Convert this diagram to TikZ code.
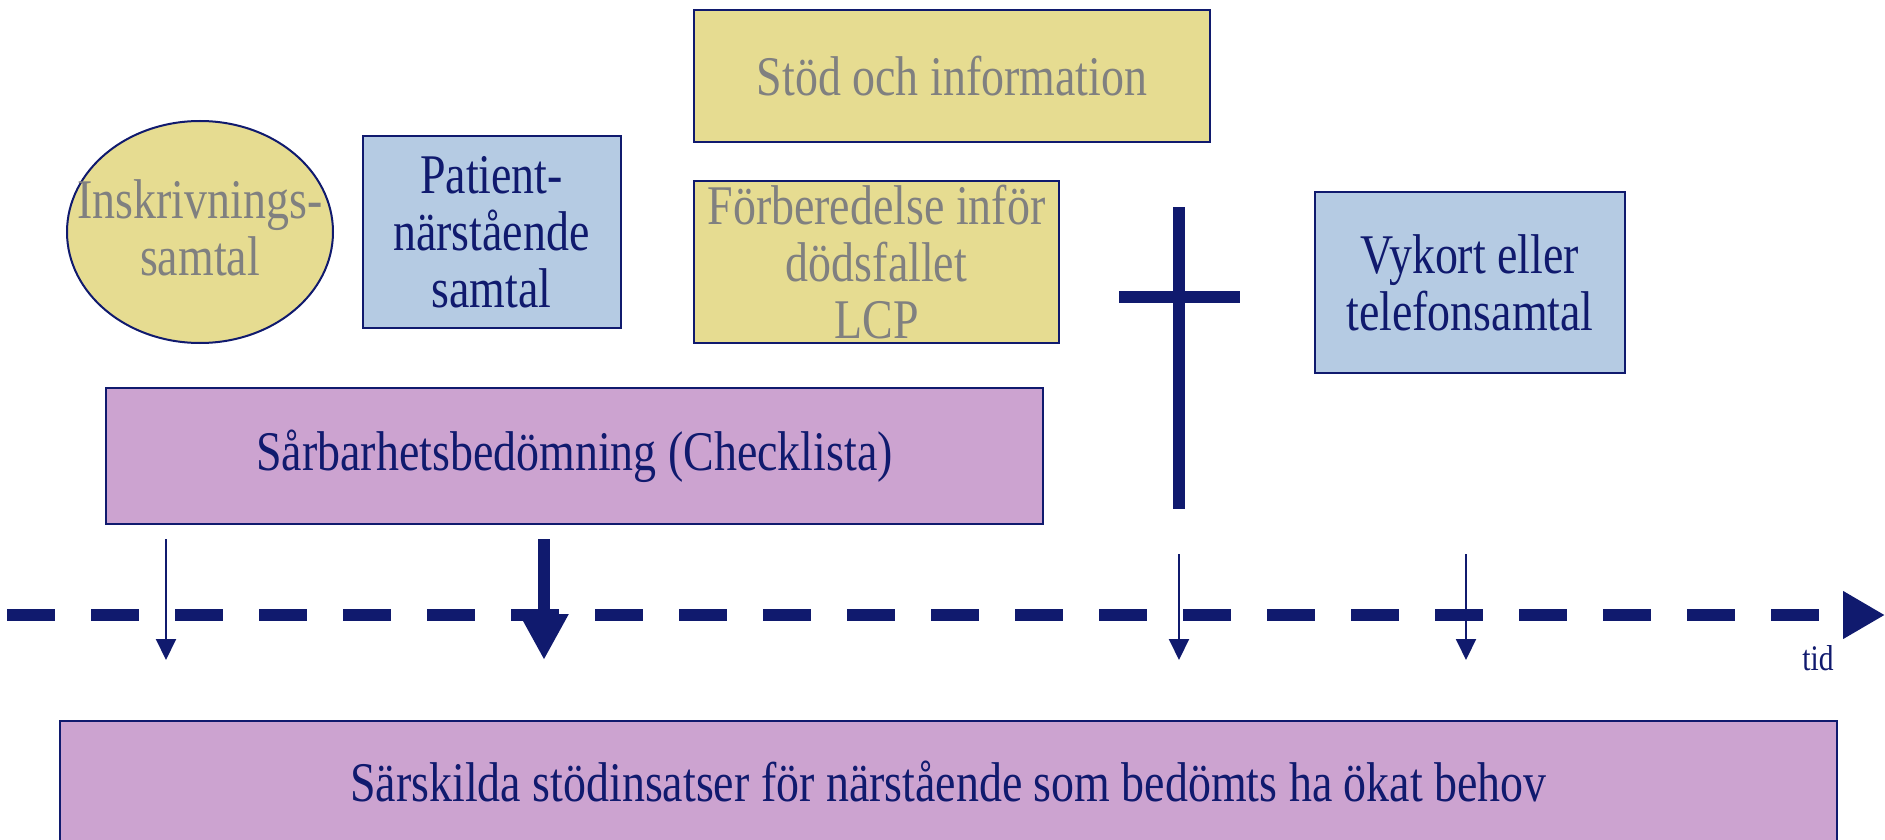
\documentclass[tikz,border=0pt]{standalone}
\usepackage{fontspec}
\setmainfont[FakeStretch=0.82]{Liberation Serif}
\usetikzlibrary{shapes.geometric,arrows.meta}
\definecolor{navy}{RGB}{16,26,110}
\definecolor{boxyellow}{RGB}{230,220,145}
\definecolor{boxblue}{RGB}{181,203,227}
\definecolor{boxpurple}{RGB}{204,163,208}
\definecolor{txtgray}{RGB}{128,128,128}
\newcommand{\myBigFont}{\fontsize{56}{57}\selectfont}
\newcommand{\mySmallFont}{\fontsize{36}{40}\selectfont}
\begin{document}
\begin{tikzpicture}[x=1pt,y=-1pt,
  boxbase/.style={draw=navy,line width=2pt,inner sep=0pt,align=center,font=\myBigFont},
  yellowbox/.style={boxbase,fill=boxyellow,text=txtgray},
  bluebox/.style={boxbase,fill=boxblue,text=navy},
  purplebox/.style={boxbase,fill=boxpurple,text=navy},
  thinarrow/.style={draw=navy,line width=2pt,-{Triangle[width=20pt,length=21pt]}},
  thickarrow/.style={draw=navy,line width=12pt,-{Triangle[width=46pt,length=46pt]}},
  timeline/.style={draw=navy,line width=12pt,dash pattern=on 48pt off 36pt,-{Triangle[width=45pt,length=42pt]}},
  crossbar/.style={draw=navy,line width=12pt}
]
\clip (0,0) rectangle (1885,840);
\useasboundingbox (0,0) rectangle (1885,840);

% ellipse
\node[ellipse,draw=navy,line width=2pt,fill=boxyellow,minimum width=266pt,minimum height=222pt,inner sep=0pt] (insk) at (200,232) {};
\node[text=txtgray,font=\myBigFont,align=center,inner sep=0pt] (inskt) at (200,228) {Inskrivnings-\\samtal};

% boxes
\node[bluebox,minimum width=258pt,minimum height=192pt] (patient) at (491.5,232) {Patient-\\närstående\\samtal};
\node[yellowbox,minimum width=516pt,minimum height=132pt] (stod) at (952,76) {Stöd och information};
\node[yellowbox,minimum width=365pt,minimum height=162pt] (forb) at (876.5,262) {Förberedelse inför\\dödsfallet\\LCP};
\node[bluebox,minimum width=310pt,minimum height=181pt] (vykort) at (1470,282.5) {Vykort eller\\telefonsamtal};
\node[purplebox,minimum width=937pt,minimum height=136pt] (sarb) at (574.5,456) {Sårbarhetsbedömning (Checklista)};
\node[purplebox,minimum width=1777pt,minimum height=180pt] (sarsk) at (948.5,811) {};
\node[text=navy,font=\myBigFont,anchor=base,inner sep=0pt] (sarskt) at (948.5,801) {Särskilda stödinsatser för närstående som bedömts ha ökat behov};

% cross
\draw[crossbar] (1179,207) -- (1179,509);
\draw[crossbar] (1119,297) -- (1240,297);

% timeline
\coordinate (tl0) at (7,615);
\coordinate (tl1) at (1885,615);
\draw[timeline] (tl0) -- (tl1);
\node[text=navy,font=\mySmallFont,anchor=base,inner sep=0pt] (tid) at (1818,670) {tid};

% arrows
\coordinate (a1s) at (166,539);
\coordinate (a1e) at (166,660);
\draw[thinarrow] (a1s) -- (a1e);
\coordinate (a2s) at (544,539);
\coordinate (a2e) at (544,660);
\draw[thickarrow] (a2s) -- (a2e);
\coordinate (a3s) at (1179,554);
\coordinate (a3e) at (1179,660);
\draw[thinarrow] (a3s) -- (a3e);
\coordinate (a4s) at (1466,554);
\coordinate (a4e) at (1466,660);
\draw[thinarrow] (a4s) -- (a4e);
\end{tikzpicture}
\end{document}
